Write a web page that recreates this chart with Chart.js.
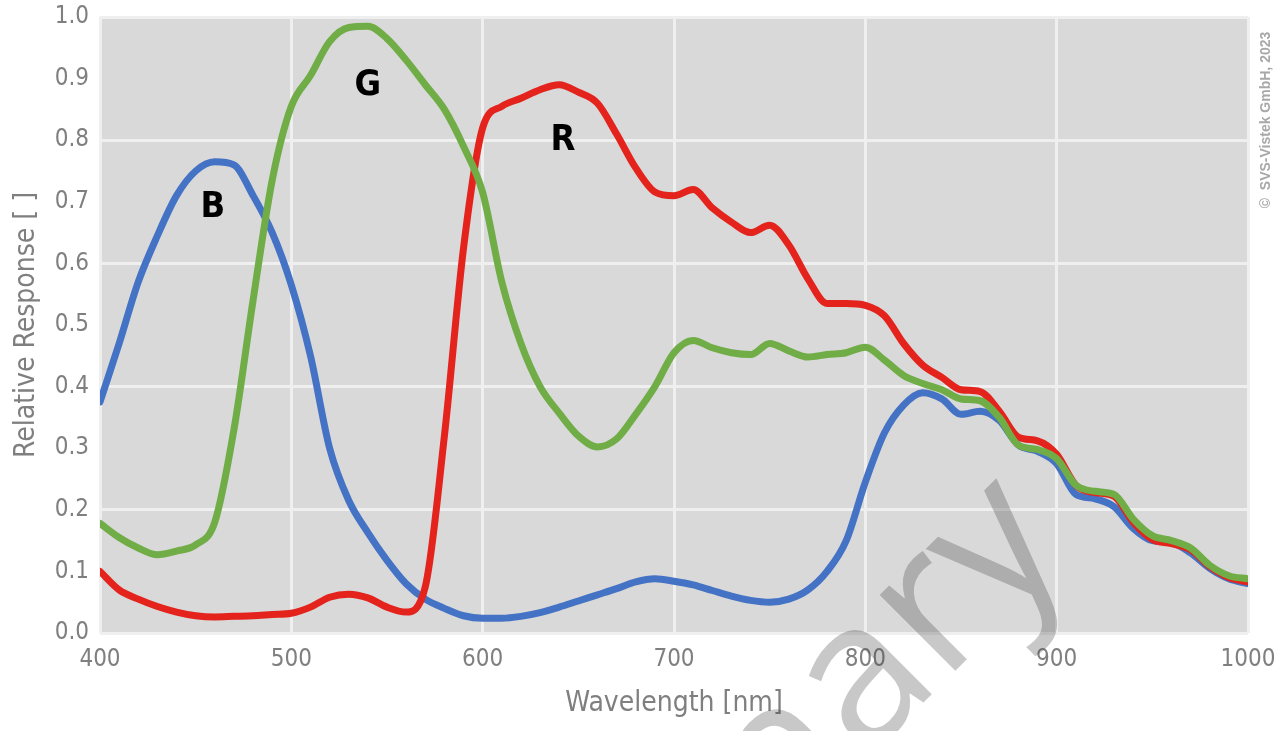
<!DOCTYPE html>
<html>
<head>
<meta charset="utf-8">
<script src="https://cdn.jsdelivr.net/npm/chart.js@4.4.1/dist/chart.umd.min.js"></script>
<style>
  html, body { margin: 0; padding: 0; background: #fff; }
  #wrap { width: 1284px; height: 731px; }
</style>
</head>
<body>
<div id="wrap"><canvas id="spectrum" width="1284" height="731"></canvas></div>
<script>
const wavelengths = [400, 410, 420, 430, 440, 450, 460, 470, 480, 490,
  500, 510, 520, 530, 540, 550, 560, 570, 580, 590,
  600, 610, 620, 630, 640, 650, 660, 670, 680, 690,
  700, 710, 720, 730, 740, 750, 760, 770, 780, 790,
  800, 810, 820, 830, 840, 850, 860, 870, 880, 890,
  900, 910, 920, 930, 940, 950, 960, 970, 980, 990, 1000];

const blueResponse = [0.375, 0.47, 0.57, 0.645, 0.71, 0.75, 0.765, 0.76, 0.71, 0.65,
  0.565, 0.45, 0.30, 0.215, 0.163, 0.118, 0.08, 0.055, 0.04, 0.028,
  0.024, 0.024, 0.027, 0.033, 0.042, 0.052, 0.062, 0.072, 0.083, 0.088,
  0.084, 0.078, 0.069, 0.06, 0.053, 0.05, 0.055, 0.07, 0.10, 0.15,
  0.245, 0.325, 0.37, 0.39, 0.38, 0.355, 0.36, 0.345, 0.305, 0.295,
  0.275, 0.225, 0.218, 0.205, 0.17, 0.15, 0.147, 0.13, 0.105, 0.088, 0.08];

const greenResponse = [0.178, 0.155, 0.138, 0.127, 0.133, 0.143, 0.18, 0.33, 0.54, 0.735,
  0.855, 0.905, 0.96, 0.983, 0.985, 0.965, 0.93, 0.89, 0.85, 0.79,
  0.715, 0.57, 0.47, 0.40, 0.357, 0.32, 0.302, 0.315, 0.355, 0.40,
  0.455, 0.475, 0.463, 0.455, 0.452, 0.47, 0.458, 0.448, 0.452, 0.455,
  0.464, 0.443, 0.418, 0.405, 0.395, 0.38, 0.377, 0.35, 0.305, 0.298,
  0.283, 0.24, 0.23, 0.225, 0.185, 0.158, 0.15, 0.138, 0.11, 0.093, 0.088];

const redResponse = [0.10, 0.07, 0.055, 0.043, 0.034, 0.028, 0.026, 0.027, 0.028, 0.03,
  0.032, 0.042, 0.058, 0.063, 0.057, 0.042, 0.034, 0.075, 0.32, 0.625,
  0.82, 0.855, 0.868, 0.882, 0.89, 0.878, 0.86, 0.81, 0.755, 0.716,
  0.71, 0.72, 0.69, 0.667, 0.65, 0.662, 0.63, 0.575, 0.535, 0.535,
  0.532, 0.515, 0.47, 0.435, 0.415, 0.395, 0.392, 0.36, 0.318, 0.312,
  0.29, 0.24, 0.228, 0.222, 0.18, 0.152, 0.145, 0.135, 0.108, 0.09, 0.083];

const yTicks = [0, 0.1, 0.2, 0.3, 0.4, 0.5, 0.6, 0.7, 0.8, 0.9, 1.0];

// channel letters, in data coordinates
const channelNames = ['B', 'G', 'R'];
const channelNm = [459, 540, 642];
const channelValue = [0.69, 0.888, 0.799];

const narrow = "'Liberation Sans Narrow', 'DejaVu Sans Condensed', 'Roboto Condensed', sans-serif";
const axisGrey = '#7f7f7f';
const gridWhite = '#efefef';

const toPoints = (vals) => vals.map((v, i) => ({ x: wavelengths[i], y: v }));

const decorations = {
  id: 'decorations',
  beforeDraw(chart) {
    const { ctx, chartArea: a } = chart;
    ctx.save();
    ctx.fillStyle = '#d9d9d9';
    ctx.fillRect(a.left, a.top, a.right - a.left, a.bottom - a.top);
    ctx.restore();
  },
  afterDraw(chart) {
    const { ctx, scales: { x, y } } = chart;
    ctx.save();
    ctx.fillStyle = '#000';
    ctx.font = 'bold 36px ' + narrow;
    ctx.textAlign = 'center';
    ctx.textBaseline = 'middle';
    channelNames.forEach((name, i) => {
      ctx.fillText(name, x.getPixelForValue(channelNm[i]), y.getPixelForValue(channelValue[i]));
    });
    ctx.restore();

    // watermark
    ctx.save();
    ctx.translate(1072, 554);
    ctx.rotate(-Math.PI / 4);
    ctx.font = '200px "Open Sans", sans-serif';
    ctx.textAlign = 'right';
    ctx.textBaseline = 'alphabetic';
    ctx.fillStyle = 'rgba(65,65,65,0.29)';
    ctx.fillText('Preliminary', 0, 0);
    ctx.restore();

    // copyright
    ctx.save();
    ctx.translate(1266, 120);
    ctx.rotate(-Math.PI / 2);
    ctx.font = 'bold 14px "Liberation Sans", Arial, sans-serif';
    ctx.textAlign = 'center';
    ctx.textBaseline = 'middle';
    ctx.fillStyle = '#a8a8a8';
    ctx.fillText('\u00A9  SVS-Vistek GmbH, 2023', 0, 0);
    ctx.restore();
  }
};

new Chart(document.getElementById('spectrum'), {
  type: 'line',
  data: {
    datasets: [
      { label: 'G', data: toPoints(greenResponse), borderColor: '#70ad47' },
      { label: 'R', data: toPoints(redResponse), borderColor: '#e3231c' },
      { label: 'B', data: toPoints(blueResponse), borderColor: '#4472c4' }
    ]
  },
  options: {
    responsive: false,
    animation: false,
    layout: { padding: { top: 17, right: 36, left: 0, bottom: 0 } },
    plugins: {
      legend: { display: false },
      tooltip: { enabled: false }
    },
    elements: {
      point: { radius: 0 },
      line: {
        borderWidth: 7,
        cubicInterpolationMode: 'monotone',
        borderCapStyle: 'round',
        borderJoinStyle: 'round'
      }
    },
    scales: {
      x: {
        type: 'linear',
        min: 400,
        max: 1000,
        afterFit(s) { s.height = 98; s.paddingLeft = 0; s.paddingRight = 0; },
        border: { display: false },
        grid: { color: gridWhite, lineWidth: 3, drawTicks: false },
        ticks: {
          stepSize: 100,
          color: axisGrey,
          font: { family: narrow, size: 24 },
          padding: 12,
          callback: (v) => String(v)
        },
        title: {
          display: true,
          text: 'Wavelength [nm]',
          color: axisGrey,
          font: { family: narrow, size: 28 },
          padding: { top: 0, bottom: 10 }
        }
      },
      y: {
        min: 0,
        max: 1,
        afterFit(s) { s.width = 100; s.paddingTop = 0; s.paddingBottom = 0; },
        afterBuildTicks(s) { s.ticks = yTicks.map(v => ({ value: v })); },
        border: { display: false },
        grid: {
          lineWidth: 3,
          drawTicks: false,
          color: (c) => (c.tick && Math.round(c.tick.value * 10) % 2 === 0) ? gridWhite : 'rgba(0,0,0,0)'
        },
        ticks: {
          color: axisGrey,
          font: { family: narrow, size: 24 },
          padding: 11,
          callback: (v) => Number(v).toFixed(1)
        },
        title: {
          display: true,
          text: 'Relative Response [ ]',
          color: axisGrey,
          font: { family: narrow, size: 28 },
          padding: { top: 10, bottom: 0 }
        }
      }
    }
  },
  plugins: [decorations]
});
</script>
</body>
</html>
